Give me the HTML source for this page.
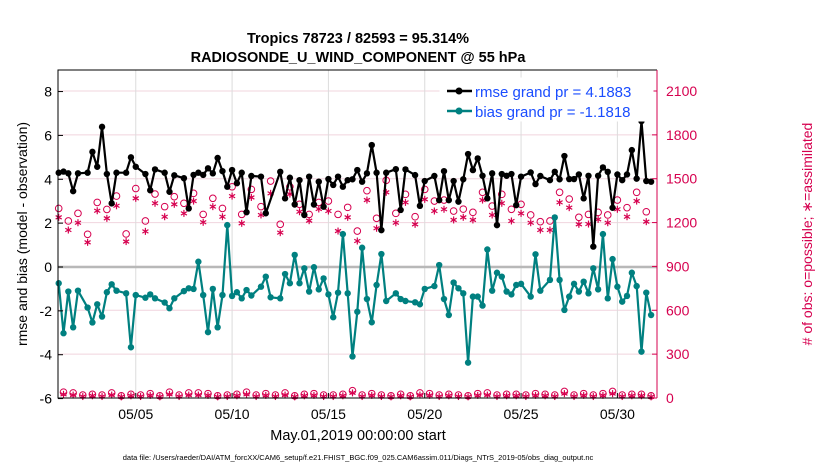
<!DOCTYPE html>
<html><head><meta charset="utf-8">
<style>
html,body{margin:0;padding:0;background:#fff;}
svg{display:block;font-family:"Liberation Sans",Arial,sans-serif;}
</style></head>
<body>
<svg id="chart" width="830" height="470" viewBox="0 0 830 470" xmlns="http://www.w3.org/2000/svg">
<rect x="0" y="0" width="830" height="470" fill="#fff"/>
<text x="358" y="43" text-anchor="middle" font-size="14.5" font-weight="bold">Tropics 78723 / 82593 = 95.314%</text>
<text x="358" y="62" text-anchor="middle" font-size="14.5" font-weight="bold">RADIOSONDE_U_WIND_COMPONENT @ 55 hPa</text>
<g id="grid"></g>
<g id="marks"></g>
<g id="axes"></g>
<text transform="translate(27,234) rotate(-90)" text-anchor="middle" font-size="14">rmse and bias (model - observation)</text>
<text transform="translate(812,234) rotate(-90)" text-anchor="middle" font-size="14" fill="#d6004f"># of obs: o=possible; ∗=assimilated</text>
<text x="358" y="440" text-anchor="middle" font-size="14.5">May.01,2019 00:00:00 start</text>
<text x="358" y="460" text-anchor="middle" font-size="7.5">data file: /Users/raeder/DAI/ATM_forcXX/CAM6_setup/f.e21.FHIST_BGC.f09_025.CAM6assim.011/Diags_NTrS_2019-05/obs_diag_output.nc</text>
<g>
<rect x="440" y="78" width="213" height="43" fill="#fff" stroke="#fff"/>
<line x1="447" y1="91" x2="472" y2="91" stroke="#000" stroke-width="2.5"/>
<circle cx="459" cy="91" r="3.5" fill="#000"/>
<text x="475" y="97" font-size="15" fill="#1a4dff">rmse grand pr = 4.1883</text>
<line x1="447" y1="111" x2="472" y2="111" stroke="#008080" stroke-width="2.5"/>
<circle cx="459" cy="111" r="3.5" fill="#008080"/>
<text x="475" y="117" font-size="15" fill="#1a4dff">bias grand pr = -1.1818</text>
</g>
</svg>
<script>
const rmse = [4.3,4.35,4.27,3.46,4.27,null,4.3,5.25,4.57,6.39,4.24,2.9,4.3,null,4.3,5.0,4.57,null,4.24,3.5,4.45,null,4.3,3.43,4.18,null,4.05,2.67,4.2,4.3,4.2,4.5,4.27,4.97,4.37,3.66,4.42,3.82,4.3,2.5,4.15,null,4.12,2.45,null,null,4.34,3.13,4.07,2.85,3.96,2.37,4.12,2.85,3.89,2.75,4.01,3.74,4.12,3.66,3.96,4.0,4.42,3.89,4.27,5.56,4.3,1.68,4.3,null,4.46,2.6,4.45,null,4.19,2.79,3.92,null,4.15,3.05,4.37,3.05,3.92,2.98,4.0,5.15,4.42,4.95,4.16,3.13,4.27,1.91,4.24,4.16,4.24,2.82,4.12,null,4.31,3.78,4.15,null,3.96,4.34,4.0,5.06,4.01,4.01,4.22,3.13,4.16,0.93,4.16,4.54,4.34,2.7,4.22,3.96,4.22,5.33,4.03,6.65,3.92,3.89];
const bias = [-0.74,-3.02,-1.12,-2.75,-1.08,null,-1.85,-2.53,-1.7,-2.26,-1.15,-0.79,-1.08,null,-1.2,-3.66,-1.28,null,-1.4,-1.25,-1.43,null,-1.62,-1.88,-1.43,null,-1.1,-0.97,-1.0,0.24,-1.28,-2.97,-1.0,-2.75,-1.28,1.91,-1.32,-1.15,-1.43,-1.05,-1.3,null,-0.9,-0.44,-1.38,null,-1.43,-0.32,-0.74,0.55,-0.74,-0.06,-1.12,-0.01,-1.02,-0.52,-1.25,-2.29,-1.17,1.5,-1.2,-4.08,-2.04,0.88,-1.46,-2.52,-0.82,0.59,-1.55,null,-1.2,-1.46,-1.55,null,-1.61,-1.7,-1.0,null,-0.87,0.09,-1.46,-2.19,-0.71,-0.97,-1.2,-4.36,-1.35,-1.35,-1.76,0.8,-1.08,-0.26,-0.44,-1.12,-1.25,-0.82,-0.77,null,-1.35,0.58,-1.08,null,-0.59,2.26,-0.59,-1.96,-1.35,-0.77,-1.12,-0.67,-1.2,-0.06,-1.02,1.5,-1.43,0.36,-0.9,-1.58,-1.32,-0.26,-0.87,-3.86,-1.17,-2.19];
const possibleEven = [1297,1211,1263,1120,1338,1290,1381,1122,1433,1211,1395,1309,1377,1332,1400,1256,1366,1297,1445,1256,1427,1309,1484,1188,1445,1325,1256,1338,1347,1256,1304,1142,1418,1229,1489,1263,1393,1240,1427,1347,1354,1279,1292,1270,1407,1313,1393,1291,1325,1252,1206,1211,1407,1361,1236,1256,1270,1252,1354,1302,1407,1274];
const assimEven = [1236,1149,1199,1065,1281,1229,1315,1070,1366,1140,1332,1240,1325,1263,1347,1202,1309,1240,1381,1195,1372,1252,1400,1131,1395,1274,1213,1293,1279,1142,1236,1074,1354,1161,1407,1199,1338,1188,1359,1279,1291,1218,1236,1218,1354,1252,1332,1211,1263,1199,1149,1149,1338,1302,1188,1190,1222,1199,1291,1240,1347,1206];
const possibleOdd = [40,35,20,25,20,35,15,25,20,30,15,40,20,35,35,30,15,20,25,40,20,30,20,35,15,25,30,20,20,25,50,20,30,20,15,25,15,35,30,20,25,20,15,30,35,20,25,25,20,30,25,20,45,20,30,20,30,45,20,25,25,15];
const assimOdd = [25,20,10,15,10,20,8,15,10,18,8,25,10,20,20,18,8,10,15,25,10,18,10,20,8,15,18,10,10,15,35,10,18,10,8,15,8,20,18,10,15,10,8,18,20,10,15,15,10,18,15,10,30,10,18,10,18,30,10,15,15,8];
const leftTicks = [-6,-4,-2,0,2,4,6,8];
const rightTicks = [0,300,600,900,1200,1500,1800,2100];
const dateTicks = [4,9,14,19,24,29];
const dateLabels = ["05/05","05/10","05/15","05/20","05/25","05/30"];

const X0=58, X1=657, Y0=70, Y1=398;
const xDay = d => 58.7 + d*19.265;
const xIdx = i => xDay(i/4);
const yL = v => 267 - v*21.93;
const yR = c => 398 - c*(307/2100);
const NS="http://www.w3.org/2000/svg";
function mk(parent,tag,attrs){const e=document.createElementNS(NS,tag);for(const k in attrs)e.setAttribute(k,attrs[k]);parent.appendChild(e);return e;}
const grid=document.getElementById('grid'), marks=document.getElementById('marks'), axes=document.getElementById('axes');

rightTicks.forEach(c=>{const l=mk(grid,'line',{x1:X0,x2:X1,y1:yR(c),y2:yR(c),stroke:'#f0d4de','stroke-width':1});

});
dateTicks.forEach(d=>{const l=mk(grid,'line',{x1:xDay(d),x2:xDay(d),y1:Y0,y2:Y1,stroke:'#dcdcdc','stroke-width':1});

});
const zl=mk(grid,'line',{x1:X0,x2:X1,y1:yL(0),y2:yL(0),stroke:'#b8b8b8','stroke-width':2.5});



function asterisk(g,x,y,r){[30,90,150].forEach(a=>{const t=a*Math.PI/180;mk(g,'line',{x1:x-r*Math.cos(t),y1:y-r*Math.sin(t),x2:x+r*Math.cos(t),y2:y+r*Math.sin(t),stroke:'#d6004f','stroke-width':1.2});});}
possibleEven.forEach((c,k)=>{const i=2*k;const g=mk(marks,'g',{});


mk(g,'circle',{cx:xIdx(i),cy:yR(c),r:3.3,fill:'none',stroke:'#d6004f','stroke-width':1});
asterisk(g,xIdx(i),yR(assimEven[k]),3.5);});
possibleOdd.forEach((c,k)=>{const i=2*k+1;const g=mk(marks,'g',{});


mk(g,'circle',{cx:xIdx(i),cy:yR(c),r:3.3,fill:'none',stroke:'#d6004f','stroke-width':1});
asterisk(g,xIdx(i),yR(assimOdd[k]),3.5);});

function series(arr,color,name){let d='';arr.forEach((v,i)=>{if(v===null)return;d+=(d?'L':'M')+xIdx(i).toFixed(1)+','+yL(v).toFixed(1);});
const p=mk(marks,'path',{d:d,fill:'none',stroke:color,'stroke-width':2.2,'stroke-linejoin':'round'});


arr.forEach((v,i)=>{if(v===null)return;const c=mk(marks,'circle',{cx:xIdx(i),cy:yL(v),r:3.2,fill:color});

});}
series(bias,'#008080','bias');
series(rmse,'#000000','rmse');

const box=mk(axes,'path',{d:`M${X1},${Y0}H${X0}V${Y1}H${X1}`,fill:'none',stroke:'#000','stroke-width':1});


const ra=mk(axes,'line',{x1:X1,x2:X1,y1:Y0,y2:Y1,stroke:'#d6004f','stroke-width':1});


leftTicks.forEach(v=>{mk(axes,'line',{x1:X0,x2:X0+5,y1:yL(v),y2:yL(v),stroke:'#000'});
const t=mk(axes,'text',{x:X0-6,y:yL(v)+5,'text-anchor':'end','font-size':14});t.textContent=v;

});
rightTicks.forEach(c=>{mk(axes,'line',{x1:X1-5,x2:X1,y1:yR(c),y2:yR(c),stroke:'#d6004f'});
const t=mk(axes,'text',{x:X1+9,y:yR(c)+5,'font-size':14,fill:'#d6004f'});t.textContent=c;

});
dateTicks.forEach((d,k)=>{mk(axes,'line',{x1:xDay(d),x2:xDay(d),y1:Y1,y2:Y1-5,stroke:'#000'});
const t=mk(axes,'text',{x:xDay(d),y:419,'text-anchor':'middle','font-size':14});t.textContent=dateLabels[k];

});
</script>
</body></html>
